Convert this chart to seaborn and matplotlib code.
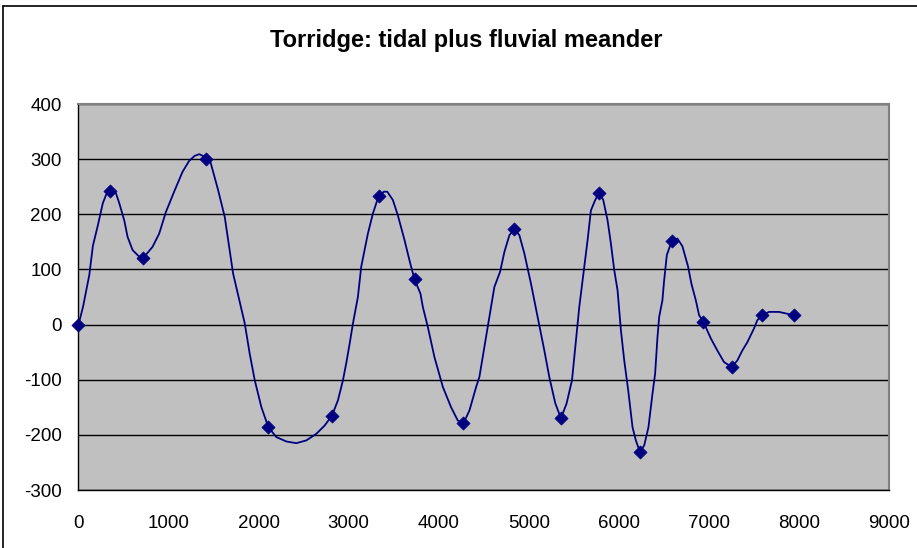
import matplotlib
matplotlib.use("Agg")
import matplotlib.pyplot as plt
from matplotlib.lines import Line2D
import seaborn as sns

# Surveyed centre-line offsets along the channel (smoothed trace)
curve_x = [0, 50, 120, 160, 215, 270, 308, 353, 416, 453, 508, 545, 601, 675, 720,
           822, 896, 970, 1062, 1155, 1229, 1290, 1340, 1380, 1420, 1458, 1550, 1624,
           1716, 1846, 1901, 1957, 2031, 2108, 2197, 2308, 2419, 2530, 2641, 2733, 2815,
           2881, 2936, 2975, 3010, 3047, 3102, 3139, 3213, 3268, 3332, 3391, 3428, 3490,
           3546, 3620, 3683, 3731, 3797, 3823, 3878, 3952, 4045, 4137, 4211, 4274, 4340,
           4415, 4451, 4506, 4562, 4617, 4681, 4729, 4784, 4839, 4895, 4950, 5024, 5098,
           5172, 5227, 5294, 5357, 5419, 5479, 5523, 5560, 5615, 5652, 5689, 5737, 5782,
           5826, 5874, 5911, 5948, 5985, 6022, 6059, 6103, 6151, 6188, 6233, 6281, 6328,
           6373, 6402, 6428, 6447, 6483, 6502, 6532, 6587, 6650, 6705, 6768, 6805, 6854,
           6890, 6938, 7020, 7093, 7167, 7253, 7315, 7370, 7426, 7500, 7537, 7592, 7666,
           7777, 7943]
curve_y = [0, 32, 90, 143, 180, 220, 236, 242, 238, 220, 189, 159, 135, 123, 121,
           141, 165, 204, 241, 277, 297, 306, 309, 306, 301, 299, 244, 195,
           93, 2, -53, -101, -150, -186, -204, -212, -215, -210, -198, -183, -165,
           -137, -101, -68, -35, 2, 50, 105, 165, 201, 233, 241, 241, 226,
           198, 153, 111, 82, 56, 32, -4, -59, -113, -150, -174, -179, -156,
           -113, -95, -41, 14, 68, 96, 132, 162, 174, 162, 129, 74, 14,
           -47, -95, -143, -170, -143, -101, -29, 32, 105, 153, 207, 226, 239,
           226, 189, 147, 99, 62, -10, -65, -119, -186, -210, -231, -219, -186,
           -125, -89, -23, 14, 44, 80, 126, 152, 156, 142, 105, 74, 44,
           17, 5, -25, -47, -68, -77, -65, -47, -32, -7, 8, 17, 23,
           23, 17]

# Measured stations
station_x = [0, 353, 720, 1420, 2108, 2815, 3332, 3731, 4274, 4839, 5357, 5782,
             6233, 6587, 6938, 7253, 7592, 7943]
station_y = [0, 242, 121, 301, -186, -165, 233, 82, -179, 174, -170, 239,
             -231, 152, 5, -77, 17, 17]

x_ticks = list(range(0, 9001, 1000))
y_ticks = list(range(-300, 401, 100))
title = "Torridge: tidal plus fluvial meander"

sns.set_style("white")
plt.rcParams["font.family"] = ["Liberation Sans", "DejaVu Sans"]

navy = "#000080"
fig = plt.figure(figsize=(9.17, 5.48), dpi=100)
ax = fig.add_axes([0.0856, 0.1058, 0.884, 0.7044])
ax.set_facecolor("#C0C0C0")

sns.lineplot(x=curve_x, y=curve_y, sort=False, estimator=None, color=navy,
             linewidth=1.3, ax=ax, zorder=3)
sns.scatterplot(x=station_x, y=station_y, marker="D", s=45, color=navy,
                edgecolor=navy, linewidth=0.5, ax=ax, zorder=4, clip_on=False)

ax.set_xlim(0, 9000)
ax.set_ylim(-300, 400)
ax.set_xticks(x_ticks)
ax.set_yticks(y_ticks)
ax.set_xticklabels([str(t) for t in x_ticks])
ax.set_yticklabels([str(t) for t in y_ticks])
ax.set_xlabel("")
ax.set_ylabel("")

ax.yaxis.grid(True, color="black", linewidth=1.0)
ax.xaxis.grid(False)
ax.set_axisbelow(True)

for side in ("top", "right"):
    ax.spines[side].set_color("#808080")
    ax.spines[side].set_linewidth(1.5)
for side in ("left", "bottom"):
    ax.spines[side].set_color("black")
    ax.spines[side].set_linewidth(1.0)

ax.tick_params(axis="both", which="major", direction="out", length=5, width=1,
               color="black", labelsize=13.5, labelcolor="black")
ax.tick_params(axis="y", pad=7)
ax.tick_params(axis="x", pad=13)

fig.text(0.5087, 1 - 40 / 548, title, ha="center", va="center",
         fontsize=17, fontweight="bold", color="black")

# Chart frame
top = 1 - 6 / 548
left = 3 / 917
fig.add_artist(Line2D([left, 1.0], [top, top], color="black", linewidth=1.2,
                      transform=fig.transFigure))
fig.add_artist(Line2D([left, left], [0.0, top], color="black", linewidth=1.2,
                      transform=fig.transFigure))

fig.savefig("out.png", dpi=100)
